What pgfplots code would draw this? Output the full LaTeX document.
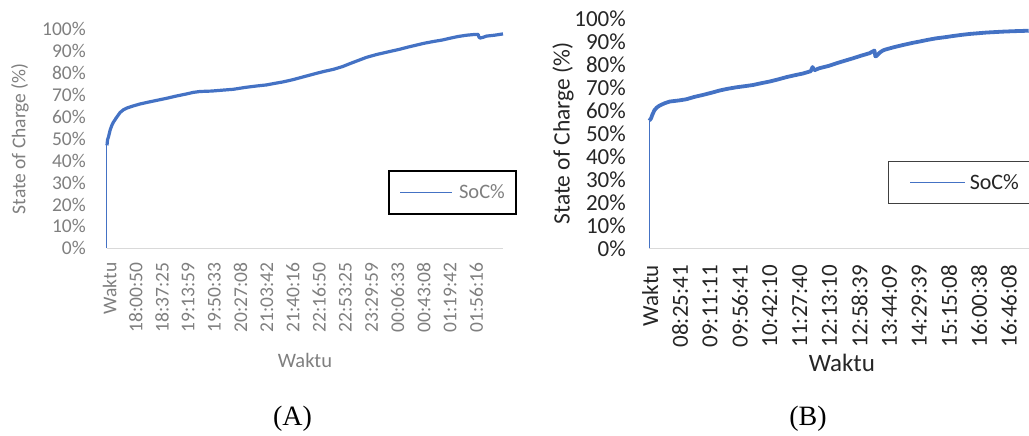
\documentclass[border=0pt]{standalone}
\usepackage{pgfplots}
\pgfplotsset{compat=1.18}
\usepackage{fontspec}
\setmainfont{Carlito}
\newfontfamily\capfont{Liberation Serif}
\definecolor{soc}{HTML}{4472C4}
\definecolor{tga}{HTML}{7F7F7F}
\definecolor{tgb}{HTML}{262626}
\definecolor{axl}{HTML}{D9D9D9}

\pgfplotstableread{
x y
0.00 47
0.02 49.5
0.06 51
0.12 54
0.18 56
0.24 57.5
0.35 59.5
0.50 62
0.62 63.2
0.75 64
1.00 65
1.26 65.9
1.60 66.8
2.00 67.8
2.28 68.5
2.60 69.4
3.04 70.5
3.30 71.2
3.55 71.6
4.00 71.8
4.40 72.2
4.82 72.6
5.30 73.5
5.70 74.1
6.09 74.6
6.40 75.3
6.73 76
7.10 77
7.50 78.3
8.00 79.9
8.30 80.8
8.64 81.7
9.00 83
9.27 84.3
9.60 85.8
9.91 87.2
10.30 88.5
10.70 89.6
11.18 90.9
11.50 91.9
11.82 92.8
12.10 93.6
12.45 94.4
12.80 95.1
13.09 95.9
13.40 96.7
13.73 97.3
14.00 97.6
14.17 97.7
14.20 96.5
14.24 96.0
14.35 96.3
14.49 96.9
14.80 97.3
15.12 97.9
}\dataA

\pgfplotstableread{
x y
0.00 55.5
0.06 56.5
0.10 58
0.17 60
0.25 61.2
0.34 62
0.50 63
0.68 63.8
1.00 64.3
1.24 64.8
1.50 65.8
1.80 66.7
2.10 67.7
2.35 68.6
2.60 69.3
2.91 70
3.20 70.5
3.47 71
3.75 71.8
4.02 72.5
4.30 73.4
4.58 74.4
4.85 75.2
5.14 76
5.40 77.0
5.46 78.8
5.52 77.4
5.69 78.3
6.00 79.3
6.25 80.4
6.50 81.4
6.81 82.6
7.10 83.8
7.36 84.8
7.53 86
7.56 83.5
7.60 83.6
7.70 85
7.81 86
7.92 86.5
8.20 87.5
8.49 88.4
8.80 89.3
9.04 89.9
9.30 90.6
9.60 91.3
9.90 91.8
10.16 92.3
10.45 92.8
10.72 93.2
11.00 93.5
11.27 93.8
11.55 94.0
11.83 94.2
12.20 94.4
12.69 94.6
}\dataB

\begin{document}
\begin{tikzpicture}
\clip (0,0) rectangle (1029pt,436pt);
\useasboundingbox (0,0) rectangle (1029pt,436pt);

% ---------------- Panel A ----------------
\begin{axis}[
  scale only axis,
  at={(107pt,187.7pt)}, anchor=south west,
  width=396pt, height=219pt,
  xmin=0, xmax=15.12, ymin=0, ymax=100,
  enlargelimits=false,
  axis lines=left,
  y axis line style={draw=none},
  x axis line style={-, draw=axl, line width=1.2pt},
  major tick length=0pt,
  ytick={0,10,...,100},
  yticklabel={\pgfmathprintnumber{\tick}\%},
  /pgf/number format/assume math mode=true,
  yticklabel style={font=\fontsize{19.5pt}{22pt}\selectfont, text=tga, anchor=east, inner sep=0pt},
  yticklabel shift=21pt,
  xtick={0.1,1.1,...,14.1},
  xticklabels={Waktu,18:00:50,18:37:25,19:13:59,19:50:33,20:27:08,21:03:42,21:40:16,22:16:50,22:53:25,23:29:59,00:06:33,00:43:08,01:19:42,01:56:16},
  xticklabel style={font=\fontsize{19.5pt}{22pt}\selectfont, text=tga, rotate=90, anchor=east, inner sep=0pt},
  xticklabel shift=14pt,
  ylabel={State of Charge (\%)},
  ylabel style={at={(axis description cs:-0.22,0.5)}, anchor=center, rotate=0, font=\fontsize{19.5pt}{22pt}\selectfont, text=tga},
  xlabel={Waktu},
  xlabel style={at={(axis description cs:0.5,-0.51)}, anchor=center, font=\fontsize{20.5pt}{24pt}\selectfont, text=tga},
  legend style={at={(axis description cs:0.7096,0.3575)}, anchor=north west,
    draw=black, line width=1.5pt, inner xsep=11pt, inner ysep=14pt,
    column sep=6pt, nodes={inner sep=0pt},
    font=\fontsize{20.5pt}{24pt}\selectfont, text=tga},
  legend image code/.code={\draw[#1, line width=1.3pt] (0pt,0pt) -- (52pt,0pt);},
  clip=false,
]
\addplot[soc, line width=1pt] coordinates {(0,0) (0,47)};
\addlegendentry{SoC\%}
\addplot[soc, line width=3.2pt, line join=round, forget plot] table[x=x,y=y] {\dataA};
\end{axis}

% ---------------- Panel B ----------------
\begin{axis}[
  scale only axis,
  at={(649.3pt,187.7pt)}, anchor=south west,
  width=379.7pt, height=230pt,
  xmin=0, xmax=12.7, ymin=0, ymax=100,
  enlargelimits=false,
  axis lines=left,
  y axis line style={draw=none},
  x axis line style={-, draw=axl, line width=1.2pt},
  major tick length=0pt,
  ytick={0,10,...,100},
  yticklabel={\pgfmathprintnumber{\tick}\%},
  /pgf/number format/assume math mode=true,
  yticklabel style={font=\fontsize{23pt}{26pt}\selectfont, text=tgb, anchor=east, inner sep=0pt},
  yticklabel shift=23.3pt,
  xtick={0.03,1.03,...,12.03},
  xticklabels={Waktu,08:25:41,09:11:11,09:56:41,10:42:10,11:27:40,12:13:10,12:58:39,13:44:09,14:29:39,15:15:08,16:00:38,16:46:08},
  xticklabel style={font=\fontsize{23pt}{26pt}\selectfont, text=tgb, rotate=90, anchor=east, inner sep=0pt},
  xticklabel shift=16.7pt,
  ylabel={State of Charge (\%)},
  ylabel style={at={(axis description cs:-0.227,0.5)}, anchor=center, rotate=0, font=\fontsize{23.5pt}{26pt}\selectfont, text=tgb},
  xlabel={Waktu},
  xlabel style={at={(axis description cs:0.507,-0.5)}, anchor=center, font=\fontsize{25pt}{28pt}\selectfont, text=tgb},
  legend style={at={(axis description cs:0.6287,0.3796)}, anchor=north west,
    draw=black!75, line width=0.9pt, inner xsep=21pt, inner ysep=13pt,
    column sep=4pt, nodes={inner sep=0pt},
    font=\fontsize{22pt}{26pt}\selectfont, text=tgb},
  legend image code/.code={\draw[#1, line width=1.3pt] (0pt,0pt) -- (55pt,0pt);},
  clip=false,
]
\addplot[soc, line width=1pt] coordinates {(0,0) (0,55.5)};
\addlegendentry{SoC\%}
\addplot[soc, line width=3.8pt, line join=round, forget plot] table[x=x,y=y] {\dataB};
\end{axis}

\node[font=\capfont\fontsize{28pt}{32pt}\selectfont, text=black] at (292.5pt,17pt) {(A)};
\node[font=\capfont\fontsize{28pt}{32pt}\selectfont, text=black] at (808pt,17pt) {(B)};
\end{tikzpicture}
\end{document}
